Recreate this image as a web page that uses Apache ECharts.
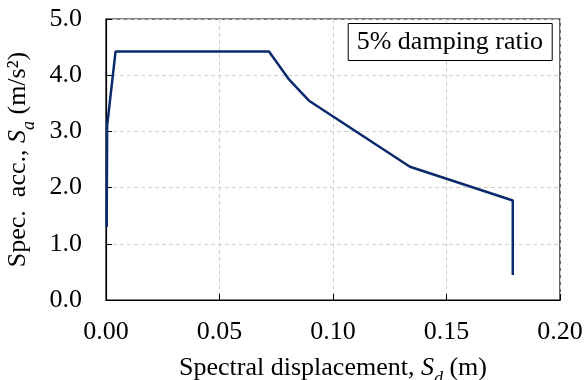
<!DOCTYPE html>
<html>
<head>
<meta charset="utf-8">
<script src="https://cdn.jsdelivr.net/npm/echarts@6/dist/echarts.min.js"></script>
<style>
  html, body { margin: 0; padding: 0; background: #fff; }
  #chart { width: 585px; height: 380px; }
</style>
</head>
<body>
<div id="chart"></div>
<script>
// spectral displacement (m) / spectral acceleration (m/s2)
var sdValues = [0.0003, 0.0005, 0.0042, 0.0718, 0.0803, 0.0896, 0.1339, 0.1792, 0.1792];
var saValues = [1.30, 3.10, 4.42, 4.42, 3.94, 3.54, 2.37, 1.77, 0.445];
var legendText = '5% damping ratio';

var FONT = 'Liberation Serif';
var lineColor = '#0b2a6e';

var points = sdValues.map(function (x, i) { return [x, saValues[i]]; });

var nameRich = {
  n: { fontFamily: FONT, fontSize: 26, color: '#000', lineHeight: 40, verticalAlign: 'middle' },
  i: { fontFamily: FONT, fontSize: 26, color: '#000', fontStyle: 'italic', lineHeight: 40, verticalAlign: 'middle' },
  sub: { fontFamily: FONT, fontSize: 18, color: '#000', fontStyle: 'italic', lineHeight: 40, verticalAlign: 'bottom' }
};

var gridLine = { show: true, lineStyle: { color: '#cfcfcf', type: [4, 3], width: 1 } };

var option = {
  animation: false,
  backgroundColor: '#fff',
  title: {
    text: legendText,
    right: 33,
    top: 23,
    padding: [5, 9],
    borderWidth: 1,
    borderColor: '#000',
    backgroundColor: '#fff',
    textStyle: { fontFamily: FONT, fontSize: 26, fontWeight: 'normal', color: '#000', lineHeight: 28 }
  },
  grid: {
    left: 106, right: 25, top: 19, bottom: 80,
    outerBoundsMode: 'none',
    containLabel: false,
    show: true, borderColor: '#000', borderWidth: 1.2
  },
  xAxis: {
    type: 'value',
    min: 0, max: 0.2, interval: 0.05,
    name: '{n|Spectral displacement, }{i|S}{sub|d}{n| (m)}',
    nameLocation: 'middle',
    nameGap: 48,
    nameTextStyle: { rich: nameRich },
    axisLine: { onZero: false, lineStyle: { color: '#000', width: 1.2 } },
    axisTick: { inside: true, length: 6, lineStyle: { color: '#000' } },
    axisLabel: {
      margin: 19,
      fontFamily: FONT, fontSize: 26, color: '#000',
      formatter: function (v) { return v.toFixed(2); }
    },
    splitLine: gridLine
  },
  yAxis: {
    type: 'value',
    min: 0, max: 5, interval: 1,
    name: '{n|Spec.  acc., }{i|S}{sub|a}{n| (m/s²)}',
    nameLocation: 'middle',
    nameGap: 64,
    nameTextStyle: { rich: nameRich },
    axisLine: { show: true, onZero: false, lineStyle: { color: '#000', width: 1.2 } },
    axisTick: { show: true, inside: true, length: 6, lineStyle: { color: '#000' } },
    axisLabel: {
      margin: 24,
      fontFamily: FONT, fontSize: 26, color: '#000',
      formatter: function (v) { return v.toFixed(1); }
    },
    splitLine: gridLine
  },
  series: [{
    type: 'line',
    data: points,
    showSymbol: false,
    symbol: 'none',
    lineStyle: { color: lineColor, width: 2.5 },
    z: 3
  }]
};

var chart = echarts.init(document.getElementById('chart'));
chart.setOption(option);
</script>
</body>
</html>
